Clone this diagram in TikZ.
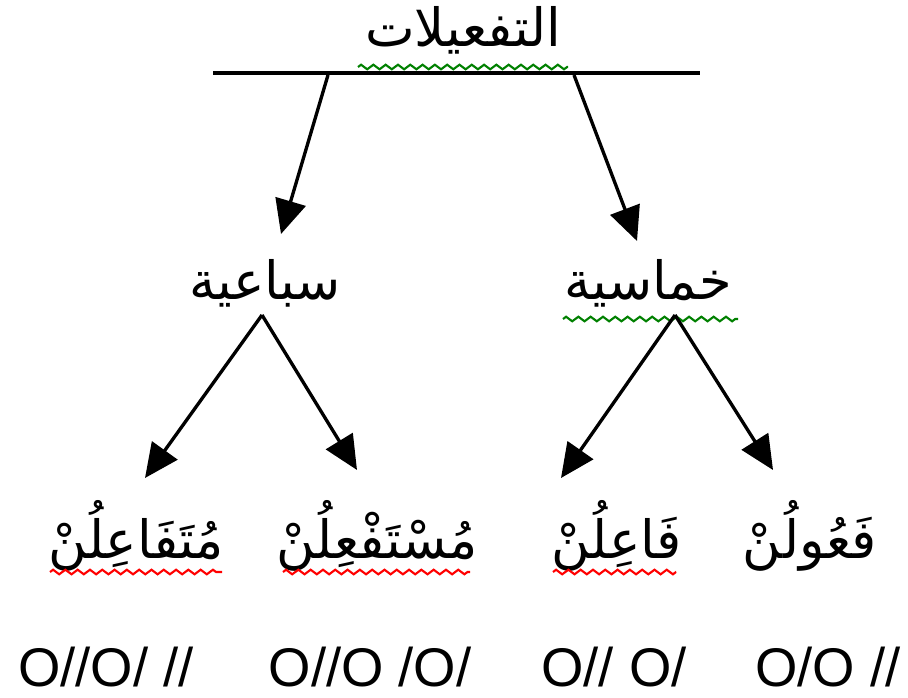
\documentclass[tikz,border=0pt]{standalone}
\usepackage{fontspec}
\setmainfont{Liberation Sans}
\newfontfamily\arabicfont[Script=Arabic]{DejaVu Sans}
\TeXXeTstate=1
\usetikzlibrary{arrows.meta,decorations.pathmorphing}
\tikzset{
  arword/.style={font=\arabicfont\fontsize{30}{34}\selectfont, inner sep=0pt},
  pattern/.style={font=\fontsize{31}{36}\selectfont, inner sep=0pt},
  branch/.style={line width=1.9pt, -{Triangle[length=0.68cm,width=0.62cm]}},
  wavy/.style={decorate, decoration={zigzag, segment length=7pt, amplitude=1.3pt}, line width=1.2pt},
}
\begin{document}
\begin{tikzpicture}[x=0.02cm,y=-0.02cm]
    \useasboundingbox (0,0) rectangle (908,697);
    % top word and its bar
    \node[arword] (title) at (463,30) {\beginR التفعيلات\endR};
    \coordinate (barL) at (213,73);
    \coordinate (barR) at (700,73);
    \draw[line width=2.1pt] (barL) -- (barR);
    \draw[wavy,green!50!black] (358,67) -- (568,67);
    % second level
    \node[arword] (sbaa) at (265,283) {\beginR سباعية\endR};
    \node[arword] (khms) at (648,283) {\beginR خماسية\endR};
    \draw[wavy,green!50!black] (563,319) -- (738,319);
    \coordinate (fromL) at (328,75);
    \coordinate (fromR) at (574,75);
    \coordinate (toL) at (281,234);
    \coordinate (toR) at (637,241);
    \draw[branch] (fromL) -- (toL);
    \draw[branch] (fromR) -- (toR);
    % leaves
    \node[arword] (mutafa) at (136,536) {\beginR مُتَفَاعِلُنْ\endR};
    \node[arword] (mustaf) at (377,536) {\beginR مُسْتَفْعِلُنْ\endR};
    \node[arword] (faail) at (617,536) {\beginR فَاعِلُنْ\endR};
    \node[arword] (fauul) at (810,536) {\beginR فَعُولُنْ\endR};
    \draw[wavy,red] (50,572) -- (222,572);
    \draw[wavy,red] (283,572) -- (470,572);
    \draw[wavy,red] (553,572) -- (676,572);
    \coordinate (sbaaR) at (262,315);
    \coordinate (khmsR) at (675,315);
    \coordinate (tipA) at (145,478);
    \coordinate (tipB) at (357,470);
    \coordinate (tipC) at (561,478);
    \coordinate (tipD) at (773,470);
    \draw[branch] (sbaaR) -- (tipA);
    \draw[branch] (sbaaR) -- (tipB);
    \draw[branch] (khmsR) -- (tipC);
    \draw[branch] (khmsR) -- (tipD);
    % prosodic patterns
    \node[pattern] (patA) at (106,667) {O//O/ //};
    \node[pattern] (patB) at (370,667) {O//O /O/};
    \node[pattern] (patC) at (614,667) {O// O/};
    \node[pattern] (patD) at (828,667) {O/O //};
\end{tikzpicture}
\end{document}
